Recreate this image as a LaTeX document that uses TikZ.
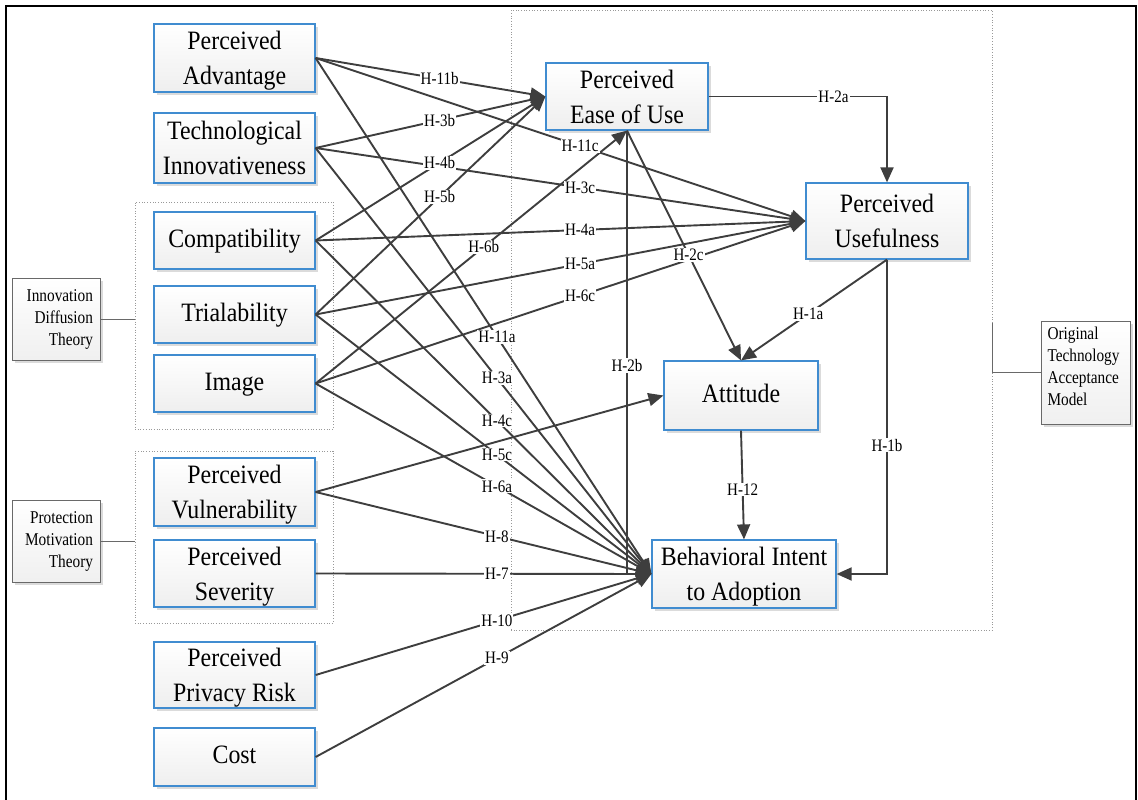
\documentclass[tikz,border=0pt]{standalone}
\usepackage{fontspec}
\setmainfont{Liberation Serif}
\newfontfamily\boxfont{Liberation Serif}[FakeStretch=0.9]
\newfontfamily\tagfont{Liberation Serif}[FakeStretch=0.86]
\newfontfamily\theoryfont{Liberation Serif}[FakeStretch=0.85]
\usetikzlibrary{arrows.meta,shadows}

\definecolor{boxblue}{RGB}{64,140,208}
\definecolor{linegray}{RGB}{62,62,62}
\definecolor{framegray}{RGB}{105,105,105}

\begin{document}
\begin{tikzpicture}[x=1pt,y=-1pt,
  construct/.style={draw=boxblue, line width=1.2pt, top color=white, bottom color=gray!13,
    drop shadow={shadow xshift=3pt, shadow yshift=-3pt, fill=gray!28, opacity=1},
    align=center, inner sep=0pt, minimum width=161pt,
    font=\boxfont\fontsize{26.5}{35}\selectfont},
  oneline/.style={text height=20pt, text depth=7pt},
  twoline/.style={text height=59pt, text depth=6pt},
  theory/.style={draw=framegray, line width=0.9pt, top color=white, bottom color=gray!12,
    drop shadow={shadow xshift=3pt, shadow yshift=-3pt, fill=gray!28, opacity=1},
    inner sep=0pt, text width=74pt, font=\theoryfont\fontsize{18}{22}\selectfont},
  groupbox/.style={draw=gray!80, dotted, line width=0.7pt, inner sep=0pt},
  link/.style={draw=linegray, line width=1.9pt, -{Triangle[length=15pt,width=13pt]}},
  bracket/.style={draw=framegray, line width=1pt},
  tag/.style={fill=white, inner sep=1pt, text=black, pos=0.54,
    font=\tagfont\fontsize{17.5}{19}\selectfont}
]
\useasboundingbox (0,0) rectangle (1138,800);

% outer frame
\draw[line width=2.4pt] (6,815) -- (6,6) -- (1136,6) -- (1136,815);

% grouping frames
\node[groupbox, minimum width=481pt, minimum height=620pt] (tamgroup) at (751.5,320) {};
\node[groupbox, minimum width=198pt, minimum height=227pt] (idtgroup) at (234,315.5) {};
\node[groupbox, minimum width=198pt, minimum height=172pt] (pmtgroup) at (234,537) {};

% antecedent constructs
\node[construct, twoline, minimum height=68pt] (pa)    at (234.5,58)    {Perceived\\Advantage};
\node[construct, twoline, minimum height=70pt] (ti)    at (234.5,148)   {Technological\\Innovativeness};
\node[construct, oneline, minimum height=57pt] (comp)  at (234.5,240.5) {Compatibility};
\node[construct, oneline, minimum height=57pt] (trial) at (234.5,314.5) {Trialability};
\node[construct, oneline, minimum height=57pt] (img)   at (234.5,383.5) {Image};
\node[construct, twoline, minimum height=68pt] (pv)    at (234.5,492)   {Perceived\\Vulnerability};
\node[construct, twoline, minimum height=67pt] (ps)    at (234.5,573.5) {Perceived\\Severity};
\node[construct, twoline, minimum height=66pt] (ppr)   at (234.5,675)   {Perceived\\Privacy Risk};
\node[construct, oneline, minimum height=58pt] (cost)  at (234.5,757)   {Cost};

% TAM constructs
\node[construct, twoline, minimum width=162pt, minimum height=67pt] (peou) at (627,96.5)  {Perceived\\Ease of Use};
\node[construct, twoline, minimum width=162pt, minimum height=76pt] (pu)   at (887,221)   {Perceived\\Usefulness};
\node[construct, oneline, minimum width=154pt, minimum height=69pt] (att)  at (741,395.5) {Attitude};
\node[construct, twoline, minimum width=184pt, minimum height=68pt] (bi)   at (744,574)   {Behavioral Intent\\to Adoption};

% theory labels
\node[theory, align=right, minimum width=88pt, minimum height=82pt] (idt) at (56,319) {Innovation\\Diffusion\\Theory};
\node[theory, align=right, minimum width=88pt, minimum height=82pt] (pmt) at (56,541) {Protection\\Motivation\\Theory};
\node[theory, align=left, text width=76pt, text height=5pt, text depth=72pt,
  minimum width=89pt, minimum height=103pt] (tam) at (1085.5,372.5) {Original\\Technology\\Acceptance\\Model};

\draw[bracket] (idt.east) -- (idt.east -| idtgroup.west);
\draw[bracket] (pmt.east) -- (pmt.east -| pmtgroup.west);
\draw[bracket] (tam.west) -- (tam.west -| tamgroup.east) -- ++(0,-50);

% hypothesised paths
\def\edgelist{pa.east/peou.west/H-11b, pa.east/pu.west/H-11c, pa.east/bi.west/H-11a,
  ti.east/peou.west/H-3b, ti.east/pu.west/H-3c, ti.east/bi.west/H-3a,
  comp.east/peou.west/H-4b, comp.east/pu.west/H-4a, comp.east/bi.west/H-4c,
  trial.east/peou.west/H-5b, trial.east/pu.west/H-5a, trial.east/bi.west/H-5c,
  img.east/peou.south/H-6b, img.east/pu.west/H-6c, img.east/bi.west/H-6a,
  pv.east/bi.west/H-8, ps.east/bi.west/H-7, ppr.east/bi.west/H-10, cost.east/bi.west/H-9,
  peou.south/att.north/H-2c, pu.south/att.north/H-1a, att.south/bi.north/H-12}

\foreach \s/\t/\l in \edgelist {\draw[link] (\s) -- (\t);}
\draw[link] (pv.east) -- (att.west);
\draw[link] (peou.east) -- (peou.east -| pu.north) -- (pu.north);
\draw[link] (peou.south) -- (peou.south |- bi.west) -- (bi.west);
\draw[link] (pu.south) -- (pu.south |- bi.east) -- (bi.east);

% hypothesis labels on top of all lines
\foreach \s/\t/\l in \edgelist {\path (\s) -- node[tag]{\l} (\t);}
\path (peou.east) -- node[tag, pos=0.7]{H-2a} (peou.east -| pu.north);
\path (peou.south) -- node[tag, pos=0.53]{H-2b} (peou.south |- bi.west);
\path (pu.south) -- node[tag, pos=0.59]{H-1b} (pu.south |- bi.east);
\end{tikzpicture}
\end{document}
